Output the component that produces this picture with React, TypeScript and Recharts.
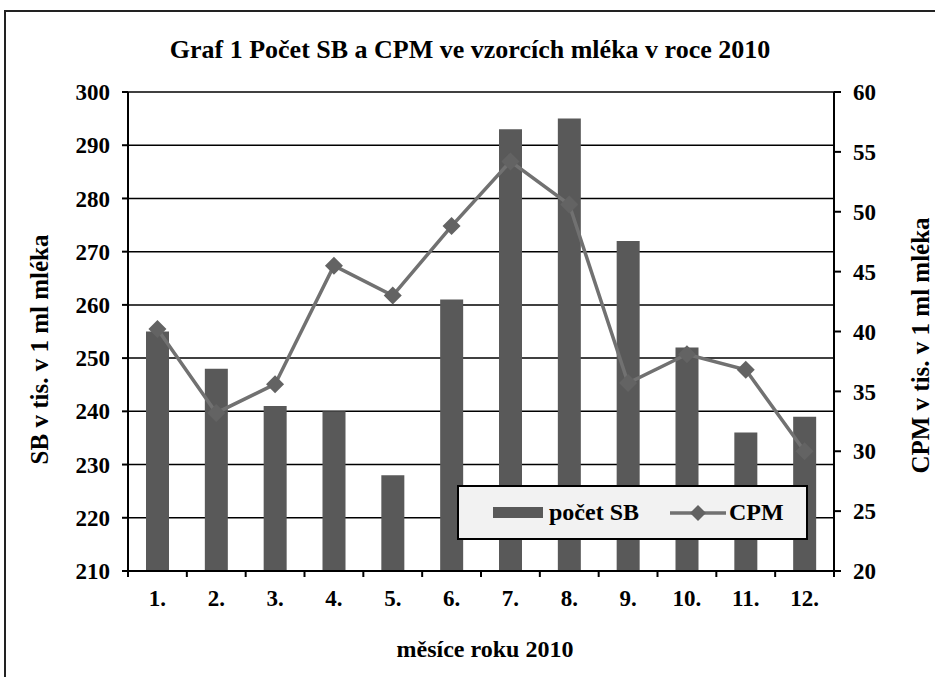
import {
  ComposedChart,
  Bar,
  Line,
  XAxis,
  YAxis,
  CartesianGrid,
  Legend,
} from "recharts";

const months = ["1.", "2.", "3.", "4.", "5.", "6.", "7.", "8.", "9.", "10.", "11.", "12."];
const sbValues = [255, 248, 241, 240, 228, 261, 293, 295, 272, 252, 236, 239];
const cpmValues = [40.2, 33.2, 35.6, 45.5, 43, 48.8, 54.2, 50.6, 35.7, 38.1, 36.8, 30];
const sbTicks = [210, 220, 230, 240, 250, 260, 270, 280, 290, 300];
const cpmTicks = [20, 25, 30, 35, 40, 45, 50, 55, 60];

const data = months.map((m, i) => ({ month: m, sb: sbValues[i], cpm: cpmValues[i] }));

const FONT = "'Liberation Serif', 'Times New Roman', serif";
const BAR = "#595959";
const LINE = "#717171";
const DOT = "#636363";

const W = 935;
const H = 677;
const LEFT_W = 128;
const RIGHT_W = 101;

const tickStyle = {
  fontFamily: FONT,
  fontSize: 23,
  fontWeight: 700,
  fill: "#000",
  style: { fontFamily: FONT },
};
const titleStyle = { ...tickStyle, fontSize: 25 };

function MonthTick(props: any) {
  const { x, y, payload, index } = props;
  const half = payload?.offset || (W - LEFT_W - RIGHT_W) / months.length / 2;
  return (
    <g>
      <line x1={x - half} x2={x - half} y1={y} y2={y + 6} stroke="#000" strokeWidth={2} />
      {index === months.length - 1 && (
        <line x1={x + half} x2={x + half} y1={y} y2={y + 6} stroke="#000" strokeWidth={2} />
      )}
      <text x={x} y={y + 35} textAnchor="middle" {...tickStyle}>
        {payload.value}
      </text>
    </g>
  );
}

function Diamond(props: any) {
  const { cx, cy } = props;
  if (cx == null || cy == null) return null;
  const r = 9;
  return (
    <polygon
      points={`${cx},${cy - r} ${cx + r},${cy} ${cx},${cy + r} ${cx - r},${cy}`}
      fill={DOT}
    />
  );
}

const sideTitle = (text: string, dx: number, dy: number) => (p: any) => {
  const vb = p.viewBox;
  const cx = vb.x + dx;
  const cy = vb.y + vb.height / 2 + dy;
  return (
    <text
      x={cx}
      y={cy}
      transform={`rotate(-90 ${cx} ${cy})`}
      textAnchor="middle"
      dominantBaseline="central"
      {...titleStyle}
    >
      {text}
    </text>
  );
};

const bottomTitle = (p: any) => {
  const vb = p.viewBox;
  return (
    <text x={vb.x + vb.width / 2 + 4} y={vb.y + 86} textAnchor="middle" {...tickStyle} fontSize={24}>
      měsíce roku 2010
    </text>
  );
};

function LegendBox() {
  return (
    <div
      style={{
        boxSizing: "border-box",
        width: 351,
        height: 55,
        background: "#f2f2f2",
        border: "2px solid #000",
        display: "flex",
        alignItems: "center",
        fontFamily: FONT,
        fontSize: 24,
        fontWeight: 700,
        color: "#000",
      }}
    >
      <span style={{ display: "inline-block", width: 50, height: 11, background: BAR, marginLeft: 34 }} />
      <span style={{ marginLeft: 6 }}>počet SB</span>
      <svg width={56} height={20} style={{ marginLeft: 31 }}>
        <line x1={0} x2={56} y1={10} y2={10} stroke={LINE} strokeWidth={3.5} />
        <polygon points="28,2 36,10 28,18 20,10" fill={DOT} />
      </svg>
      <span style={{ marginLeft: 3 }}>CPM</span>
    </div>
  );
}

export default function App() {
  return (
    <div
      style={{
        position: "absolute",
        left: 0,
        top: 0,
        width: W,
        height: H,
        overflow: "hidden",
        background: "#fff",
      }}
    >
      <div
        style={{
          position: "absolute",
          left: 4,
          top: 10,
          width: 1000,
          height: 1000,
          border: "2px solid #222",
        }}
      />
      <div
        style={{
          position: "absolute",
          left: 0,
          top: 35,
          width: 940,
          textAlign: "center",
          fontFamily: FONT,
          fontSize: 26,
          fontWeight: 700,
          color: "#000",
        }}
      >
        Graf 1 Počet SB a CPM ve vzorcích mléka v roce 2010
      </div>
      <ComposedChart
        width={W}
        height={H}
        data={data}
        margin={{ top: 92, right: 0, bottom: 0, left: 0 }}
        style={{ position: "absolute", left: 0, top: 0 }}
      >
        <CartesianGrid vertical={false} stroke="#000" strokeWidth={1.5} yAxisId="left" />
        <XAxis
          dataKey="month"
          height={106}
          tickLine={false}
          tickSize={0}
          tickMargin={0}
          axisLine={{ stroke: "#000", strokeWidth: 2 }}
          tick={<MonthTick />}
          interval={0}
          label={{ content: bottomTitle }}
        />
        <YAxis
          yAxisId="left"
          width={LEFT_W}
          domain={[210, 300]}
          ticks={sbTicks}
          interval={0}
          tickSize={6}
          tickMargin={12}
          axisLine={{ stroke: "#000", strokeWidth: 2 }}
          tickLine={{ stroke: "#000", strokeWidth: 2 }}
          tick={tickStyle}
          label={{ content: sideTitle("SB v tis.  v 1 ml mléka", 39, 18) }}
        />
        <YAxis
          yAxisId="right"
          orientation="right"
          width={RIGHT_W}
          domain={[20, 60]}
          ticks={cpmTicks}
          interval={0}
          tickSize={7}
          tickMargin={12}
          axisLine={{ stroke: "#000", strokeWidth: 2 }}
          tickLine={{ stroke: "#000", strokeWidth: 2 }}
          tick={tickStyle}
          label={{ content: sideTitle("CPM v tis.  v 1 ml mléka", 86, 14) }}
        />
        <Legend
          layout="horizontal"
          verticalAlign="middle"
          align="center"
          content={() => <LegendBox />}
          wrapperStyle={{ left: 457, top: 485, width: 351, height: 55 }}
        />
        <Bar
          yAxisId="left"
          dataKey="sb"
          name="počet SB"
          fill={BAR}
          barSize={23}
          isAnimationActive={false}
        />
        <Line
          yAxisId="right"
          dataKey="cpm"
          name="CPM"
          stroke={LINE}
          strokeWidth={3.5}
          dot={<Diamond />}
          activeDot={false}
          isAnimationActive={false}
        />
      </ComposedChart>
    </div>
  );
}
